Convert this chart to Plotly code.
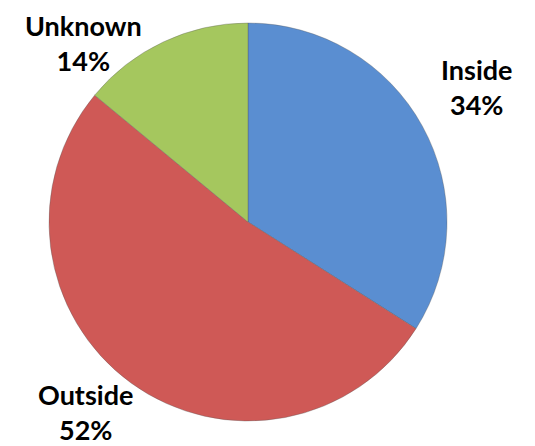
import plotly.graph_objects as go

labels = ["Inside", "Outside", "Unknown"]
values = [34, 52, 14]
colors = ["#5A8ED1", "#CF5956", "#A5C75E"]

# label annotation centre positions (paper coords)
label_x = [0.877, 0.144, 0.142]
label_y = [0.823, 0.094, 0.922]

W, H = 535, 446
cx, cy, r = 240, 214, 199

fig = go.Figure(go.Pie(
    labels=labels,
    values=values,
    sort=False,
    direction="clockwise",
    rotation=0,
    marker=dict(colors=colors, line=dict(color="rgba(90,90,90,0.35)", width=1)),
    textinfo="none",
    hoverinfo="label+percent",
    showlegend=False,
    domain=dict(x=[(cx - r) / W, (cx + r) / W],
                y=[(H - cy - r) / H, (H - cy + r) / H]),
))

for lab, v, x, y in zip(labels, values, label_x, label_y):
    fig.add_annotation(
        x=x, y=y, xref="paper", yref="paper",
        xanchor="center", yanchor="middle",
        text=f"<b>{lab}<br>{v}%</b>",
        showarrow=False, align="center", borderpad=0,
        font=dict(family="Lato", size=27, color="#000000"),
    )

fig.update_layout(
    width=W, height=H,
    margin=dict(l=0, r=0, t=0, b=0),
    paper_bgcolor="white", plot_bgcolor="white",
)

fig.write_html("out.html")
